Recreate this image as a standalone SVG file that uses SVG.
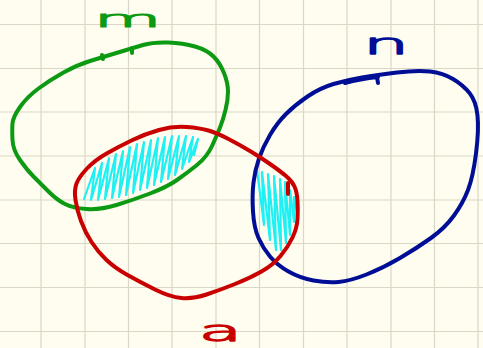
<svg xmlns="http://www.w3.org/2000/svg" width="483" height="348" viewBox="0 0 483 348">
<style>
.grid line{stroke:#d9d8c6;stroke-width:1.2}
.set{fill:none;stroke-width:4;stroke-linecap:round;stroke-linejoin:round}
.hatch{fill:none;stroke:#1ef0f4;stroke-width:2.2;stroke-linecap:round;stroke-linejoin:round}
.lbl{font-family:"DejaVu Sans",sans-serif;font-weight:200;stroke-width:2.5;stroke-linejoin:round;stroke-linecap:round}
</style>
<rect width="483" height="348" fill="#fefdf0"/>
<g class="grid">
<line x1="41" y1="0" x2="41" y2="348"/><line x1="85" y1="0" x2="85" y2="348"/><line x1="128.5" y1="0" x2="128.5" y2="348"/><line x1="172" y1="0" x2="172" y2="348"/><line x1="216" y1="0" x2="216" y2="348"/><line x1="259.5" y1="0" x2="259.5" y2="348"/><line x1="303.5" y1="0" x2="303.5" y2="348"/><line x1="347" y1="0" x2="347" y2="348"/><line x1="391" y1="0" x2="391" y2="348"/><line x1="434.5" y1="0" x2="434.5" y2="348"/><line x1="478" y1="0" x2="478" y2="348"/>
<line x1="0" y1="24.5" x2="483" y2="24.5"/><line x1="0" y1="68.5" x2="483" y2="68.5"/><line x1="0" y1="112" x2="483" y2="112"/><line x1="0" y1="156" x2="483" y2="156"/><line x1="0" y1="200" x2="483" y2="200"/><line x1="0" y1="243.5" x2="483" y2="243.5"/><line x1="0" y1="287.5" x2="483" y2="287.5"/><line x1="0" y1="331.5" x2="483" y2="331.5"/>
</g>
<g id="hatching">
<path class="hatch" d="M84,199 L95,168 L91,200 L102,163 L98,200 L109,158 L105,199 L116,154 L112,198 L123,151 L119,197 L130,147 L126,195 L137,144 L133,193 L144,142 L140,190 L151,140 L147,188 L158,138 L154,185 L165,137 L161,182 L172,136 L168,179 L179,136 L175,175 L186,136 L182,169 L193,137 L189,162 L198,139 L194,155"/>
<path class="hatch" d="M257,170 L264,225 L262,172 L270,240 L268,174 L276,250 L274,176 L281,250 L280,179 L286,243 L285,182 L290,235 L290,190 L294,222 L294,197 L297,212"/>
</g>
<g id="set-m">
<path class="set" stroke="#0b9a12" d="M118,52.5 Q133,48 143,45 Q153,42 168,42.5 Q183,43 195,46.5 Q207,50 213.5,56.5 Q220,63 224,73 Q228,83 228,91.5 Q228,100 225.5,110 Q223,120 220,127.5 Q217,135 212,146 Q207,157 197,165 Q187,173 177,180 Q167,187 150,193.5 Q133,200 116.5,205 Q100,210 86.5,209 Q73,208 65,204 Q57,200 48.5,191.5 Q40,183 33.5,176.5 Q27,170 20,160 Q13,150 12.5,140 Q12,130 12.5,123.5 Q13,117 20,107 Q27,97 38.5,88.5 Q50,80 63.5,72.5 Q77,65 90,61 Q103,57 118,52.5 Z"/>
<path class="set" stroke="#0b9a12" d="M102,55 L103,59 M132,48 L132,53"/>
<text class="lbl" fill="#0b9a12" stroke="#0b9a12" vector-effect="non-scaling-stroke" font-size="23" transform="translate(94,27) scale(3,1)">m</text>
</g>
<g id="set-n">
<path class="set" stroke="#000e96" d="M362,77.5 Q377,75 397,72.5 Q417,70 430,71.5 Q443,73 453,79 Q463,85 469.5,93 Q476,101 477.5,115.5 Q479,130 476,153.5 Q473,177 468,190 Q463,203 454,215.5 Q445,228 431,238 Q417,248 400,258 Q383,268 366.5,274.5 Q350,281 338.5,282 Q327,283 313.5,280.5 Q300,278 288.5,271.5 Q277,265 270,256.5 Q263,248 258.5,238 Q254,228 253,211.5 Q252,195 253.5,182.5 Q255,170 259,158.5 Q263,147 270,135 Q277,123 286,114 Q295,105 307.5,96.5 Q320,88 333.5,84 Q347,80 362,77.5 Z"/>
<path class="set" stroke="#000e96" d="M345,83 Q360,79 378,77 M377,77 L378,83"/>
<text class="lbl" fill="#000e96" stroke="#000e96" vector-effect="non-scaling-stroke" font-size="28" transform="translate(363,54) scale(2.6,1)">n</text>
</g>
<g id="set-a">
<path class="set" stroke="#c80000" d="M186.5,127 Q200,128 208.5,130.5 Q217,133 228.5,139 Q240,145 250,151 Q260,157 270,164 Q280,171 286,176 Q292,181 294.5,186.5 Q297,192 297.5,201 Q298,210 297.5,219 Q297,228 292.5,237.5 Q288,247 280.5,256 Q273,265 261.5,271.5 Q250,278 235,284 Q220,290 206.5,294.5 Q193,299 181.5,298 Q170,297 155,289.5 Q140,282 127.5,275 Q115,268 106.5,260 Q98,252 91.5,242 Q85,232 81,221 Q77,210 75.5,200 Q74,190 76.5,183.5 Q79,177 87,168.5 Q95,160 107.5,153 Q120,146 132.5,140 Q145,134 159,130 Q173,126 186.5,127 Z"/>
<path class="set" stroke="#c80000" d="M288,183 L288,194"/>
<text class="lbl" fill="#c80000" stroke="#c80000" vector-effect="non-scaling-stroke" font-size="28" transform="translate(199,341) scale(2.5,1)">a</text>
</g>
</svg>
